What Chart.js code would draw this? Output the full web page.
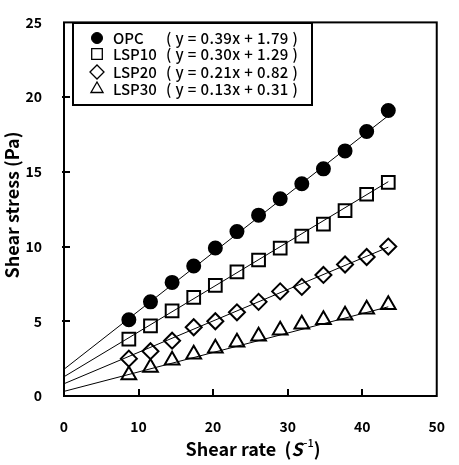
<!DOCTYPE html>
<html>
<head>
<meta charset="utf-8">
<script src="https://cdn.jsdelivr.net/npm/chart.js@4"></script>
<style>
  html, body { margin: 0; padding: 0; background: #fff; }
  #wrap { width: 459px; height: 465px; }
</style>
</head>
<body>
<div id="wrap"><canvas id="rheoChart" width="459" height="465"></canvas></div>
<script>
// 剪切速率 (S-1)
const shearRate = [8.7, 11.6, 14.5, 17.4, 20.3, 23.2, 26.1, 29.0, 31.9, 34.8, 37.7, 40.6, 43.5];

// 剪切应力 (Pa)
const opc   = [5.1, 6.3, 7.6, 8.7, 9.9, 11.0, 12.1, 13.2, 14.2, 15.2, 16.4, 17.7, 19.1];
const lsp10 = [3.8, 4.7, 5.7, 6.6, 7.4, 8.3, 9.1, 9.9, 10.7, 11.5, 12.4, 13.5, 14.3];
const lsp20 = [2.5, 3.0, 3.7, 4.6, 5.0, 5.6, 6.3, 7.0, 7.3, 8.1, 8.8, 9.3, 10.0];
const lsp30 = [1.4, 1.9, 2.4, 2.8, 3.2, 3.6, 4.0, 4.4, 4.8, 5.1, 5.4, 5.8, 6.1];

// 拟合线两端 (x = 0 和 x = 43.5)
const fitX = [0, 43.5];
const fitOpc   = [1.79, 18.76];
const fitLsp10 = [1.29, 14.34];
const fitLsp20 = [0.82, 9.96];
const fitLsp30 = [0.31, 5.97];

const seriesNames = ['OPC', 'LSP10', 'LSP20', 'LSP30'];
const equations = ['( y = 0.39x + 1.79 )', '( y = 0.30x + 1.29 )', '( y = 0.21x + 0.82 )', '( y = 0.13x + 0.31 )'];
const xTicks = [0, 10, 20, 30, 40, 50];
const yTicks = [0, 5, 10, 15, 20, 25];

const FONT = "'Noto Sans CJK KR', 'Noto Sans', sans-serif";

function toPoints(xs, ys) {
    return xs.map((x, i) => ({ x: x, y: ys[i] }));
}

const markers = [
    { style: 'circle', radius: 6.5, fill: '#000' },
    { style: 'rect', radius: 9, fill: '#fff' },
    { style: 'rectRot', radius: 8, fill: '#fff' },
    { style: 'triangle', radius: 8.5, fill: '#fff' }
];
const legendMarkers = [
    { style: 'circle', radius: 5.5, fill: '#000' },
    { style: 'rect', radius: 7.5, fill: '#fff' },
    { style: 'rectRot', radius: 7, fill: '#fff' },
    { style: 'triangle', radius: 7, fill: '#fff' }
];

const pointSets = [opc, lsp10, lsp20, lsp30];
const fitSets = [fitOpc, fitLsp10, fitLsp20, fitLsp30];

const datasets = [];
fitSets.forEach(f => {
    datasets.push({
        data: toPoints(fitX, f),
        showLine: true,
        borderColor: '#000',
        borderWidth: 1,
        pointRadius: 0
    });
});
pointSets.forEach((s, i) => {
    datasets.push({
        data: toPoints(shearRate, s),
        showLine: false,
        pointStyle: markers[i].style,
        pointRadius: markers[i].radius,
        pointBackgroundColor: markers[i].fill,
        pointBorderColor: '#000',
        pointBorderWidth: 2
    });
});

// 边框、内向刻度、图例、坐标轴标题
const decorPlugin = {
    id: 'decor',
    afterDraw(chart) {
        const ctx = chart.ctx;
        const area = chart.chartArea;
        const xs = chart.scales.x;
        const ys = chart.scales.y;
        ctx.save();
        ctx.strokeStyle = '#000';
        ctx.lineWidth = 2;
        ctx.strokeRect(area.left, area.top, area.right - area.left, area.bottom - area.top);

        ctx.lineWidth = 2;
        ctx.beginPath();
        xTicks.slice(1, -1).forEach(v => {
            const px = Math.round(xs.getPixelForValue(v));
            ctx.moveTo(px, area.bottom);
            ctx.lineTo(px, area.bottom - 7);
        });
        yTicks.slice(1, -1).forEach(v => {
            const py = Math.round(ys.getPixelForValue(v));
            ctx.moveTo(area.left - 2, py);
            ctx.lineTo(area.left + 6, py);
        });
        ctx.stroke();

        // 图例
        ctx.lineWidth = 2;
        ctx.fillStyle = '#fff';
        ctx.fillRect(73, 23, 239, 82);
        ctx.strokeRect(73, 23, 239, 82);
        const rows = [38, 54, 72, 89];
        ctx.textBaseline = 'middle';
        ctx.textAlign = 'left';
        ctx.font = '500 15px ' + FONT;
        rows.forEach((ry, i) => {
            const m = legendMarkers[i];
            ctx.fillStyle = m.fill;
            ctx.strokeStyle = '#000';
            ctx.lineWidth = i === 0 ? 1 : 1.3;
            Chart.helpers.drawPoint(ctx, { pointStyle: m.style, radius: m.radius, borderWidth: ctx.lineWidth }, 97, ry);
            ctx.fillStyle = '#000';
            ctx.letterSpacing = '0px';
            ctx.fillText(seriesNames[i], 113, ry);
            ctx.letterSpacing = '0.4px';
            ctx.fillText(equations[i], 166, ry);
            ctx.letterSpacing = '0px';
        });

        // y 轴标题
        ctx.fillStyle = '#000';
        ctx.font = 'bold 18px ' + FONT;
        ctx.save();
        ctx.translate(12, 205);
        ctx.rotate(-Math.PI / 2);
        ctx.textAlign = 'center';
        ctx.textBaseline = 'middle';
        ctx.fillText('Shear stress (Pa)', 0, 0);
        ctx.restore();

        // x 轴标题 (带上标)
        const main = 'Shear rate  (';
        const s = 'S';
        const sup = '-1';
        const close = ')';
        ctx.textBaseline = 'middle';
        ctx.textAlign = 'left';
        ctx.font = 'bold 18px ' + FONT;
        const wMain = ctx.measureText(main).width;
        ctx.font = 'italic bold 18px ' + FONT;
        const wS = ctx.measureText(s).width;
        ctx.font = '500 11px ' + FONT;
        const wSup = ctx.measureText(sup).width;
        ctx.font = 'bold 18px ' + FONT;
        const wClose = ctx.measureText(close).width;
        let x0 = 253 - (wMain + wS + wSup + 1 + wClose) / 2;
        const ty = 449;
        ctx.fillText(main, x0, ty);
        x0 += wMain;
        ctx.font = 'italic bold 18px ' + FONT;
        ctx.fillText(s, x0, ty);
        x0 += wS + 1;
        ctx.font = '500 11px ' + FONT;
        ctx.fillText(sup, x0, ty - 6);
        x0 += wSup;
        ctx.font = 'bold 18px ' + FONT;
        ctx.fillText(close, x0, ty);
        ctx.restore();
    }
};

new Chart(document.getElementById('rheoChart').getContext('2d'), {
    type: 'scatter',
    data: { datasets: datasets },
    options: {
        responsive: false,
        animation: false,
        layout: { padding: { left: 0, right: 14, top: 12, bottom: 0 } },
        plugins: {
            legend: { display: false },
            tooltip: { enabled: false }
        },
        scales: {
            x: {
                type: 'linear',
                min: 0,
                max: 50,
                afterFit: scale => { scale.height = 69; },
                afterBuildTicks: scale => { scale.ticks = xTicks.map(v => ({ value: v })); },
                grid: { display: false },
                border: { display: false },
                ticks: {
                    color: '#000',
                    padding: 14,
                    maxRotation: 0,
                    font: { family: FONT, size: 14, weight: 'bold' }
                }
            },
            y: {
                min: 0,
                max: 25,
                afterFit: scale => { scale.width = 64; },
                afterBuildTicks: scale => { scale.ticks = yTicks.map(v => ({ value: v })); },
                grid: { display: false },
                border: { display: false },
                ticks: {
                    color: '#000',
                    padding: 14,
                    font: { family: FONT, size: 14, weight: 'bold' }
                }
            }
        }
    },
    plugins: [decorPlugin]
});
</script>
</body>
</html>
